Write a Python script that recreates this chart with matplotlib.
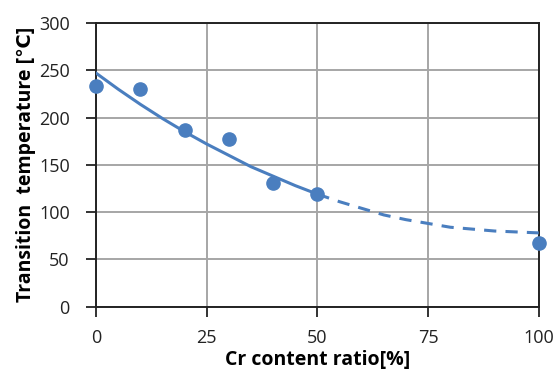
import matplotlib
matplotlib.use('Agg')
from matplotlib import pyplot as plt

# measured points
cr = [0, 10, 20, 30, 40, 50, 100]
temp = [233, 230, 187, 177, 131, 119, 67]

# trend line (solid up to 50, dashed beyond)
fit_x = [0, 5, 10, 15, 20, 25, 30, 35, 40, 45, 50, 55, 60, 65, 70, 75, 80, 85, 90, 95, 100]
fit_y = [247, 230, 214, 199, 185, 172, 160, 148, 138, 128, 119, 111, 104, 97, 92, 88, 84, 82, 80, 79, 78]

xticks = [0, 25, 50, 75, 100]
yticks = [0, 50, 100, 150, 200, 250, 300]

blue = '#4a7ebf'
plt.rcParams['font.family'] = ['Open Sans', 'DejaVu Sans']

fig = plt.figure(figsize=(5.56, 3.73), dpi=100)
ax = fig.add_axes([0.173, 0.178, 0.796, 0.76])

n = fit_x.index(50)
ax.plot(fit_x[:n + 1], fit_y[:n + 1], color=blue, lw=2.2, zorder=3)
ax.plot(fit_x[n:], fit_y[n:], color=blue, lw=2.2, ls=(0, (4, 3)), zorder=3)
ax.plot(cr, temp, 'o', color=blue, ms=9.5, zorder=4, clip_on=False)

ax.set_xlim(0, 100)
ax.set_ylim(0, 300)
ax.set_xticks(xticks)
ax.set_yticks(yticks)
ax.grid(True, color='#a6a6a6', lw=1.4)
ax.set_axisbelow(True)
for s in ax.spines.values():
    s.set_color('#222222')
    s.set_linewidth(1.4)
ax.tick_params(direction='out', length=7, width=1.3, labelsize=13, colors='#222222')
ax.tick_params(axis='x', pad=9)
ax.tick_params(axis='y', pad=12)

ax.set_xlabel('Cr content ratio[%]', fontsize=14, fontweight='bold', labelpad=2)
ax.set_ylabel('Transition  temperature [℃]', fontsize=14, fontweight='bold', labelpad=2)

fig.savefig('out.png', dpi=100)
